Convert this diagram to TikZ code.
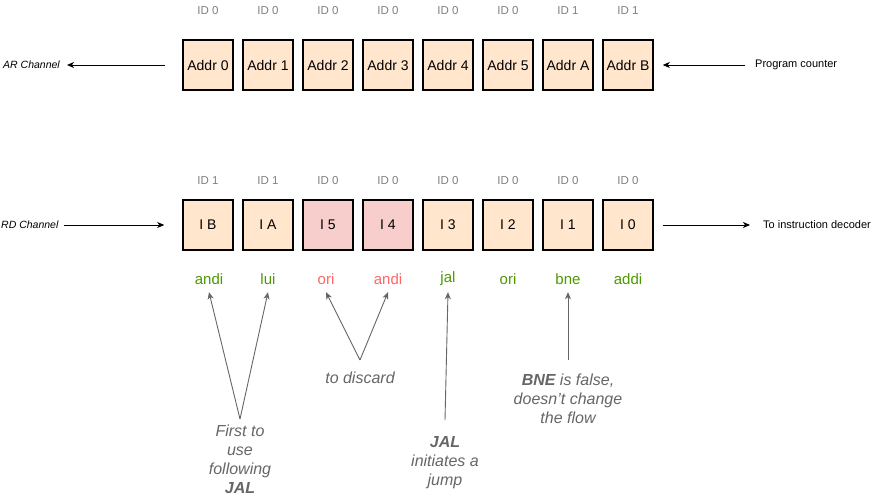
\documentclass[tikz,border=0pt]{standalone}
\usepackage{fontspec}
\setmainfont{Liberation Sans}
\usetikzlibrary{arrows.meta}
\definecolor{boxfill}{HTML}{FFE6CC}
\definecolor{redfill}{HTML}{F8CECC}
\definecolor{grn}{HTML}{4D9900}
\definecolor{rd}{HTML}{FF6666}
\definecolor{idgray}{HTML}{808080}
\definecolor{notegray}{HTML}{666666}
\begin{document}
\begin{tikzpicture}[x=1pt,y=-1pt,
  cell/.style={draw=black,line width=1.5pt,fill=boxfill,minimum size=50pt,inner sep=0pt,font=\fontsize{14}{16}\selectfont},
  discard/.style={cell,fill=redfill},
  idlab/.style={font=\fontsize{11.5}{13}\selectfont,text=idgray,inner sep=0pt},
  side/.style={font=\fontsize{11}{13}\selectfont,inner sep=0pt,anchor=west},
  chan/.style={font=\fontsize{10.5}{12}\selectfont\itshape,inner sep=0pt,anchor=west},
  instr/.style={font=\fontsize{15}{17}\selectfont,inner sep=0pt,minimum height=26pt},
  note/.style={font=\fontsize{16}{19}\selectfont\itshape,text=notegray,align=center,inner sep=0pt,anchor=north},
  flow/.style={-{Stealth[length=7pt,width=6pt,inset=2pt]},line width=0.9pt},
  pointer/.style={-{Stealth[length=7pt,width=6pt,inset=2pt]},line width=0.9pt,draw=notegray},
]
\useasboundingbox[fill=white] (0,0) rectangle (871,501);

% top row
\foreach \t [count=\i from 0] in {0,0,0,0,0,0,1,1}
  \node[idlab] (ida\i) at (208+60*\i,11) {ID \t};
\foreach \t [count=\i from 0] in {Addr 0,Addr 1,Addr 2,Addr 3,Addr 4,Addr 5,Addr A,Addr B}
  \node[cell] (a\i) at (208+60*\i,65) {\t};
\node[chan] (ar) at (3,65) {AR Channel};
\node[side] (pc) at (755,65) {Program counter};
\draw[flow] ([xshift=-17pt]a0.west) -- ([xshift=7pt]ar.east);
\draw[flow] ([xshift=-10pt]pc.west) -- ([xshift=9pt]a7.east);

% bottom row
\foreach \t [count=\i from 0] in {1,1,0,0,0,0,0,0}
  \node[idlab] (idi\i) at (208+60*\i,181) {ID \t};
\node[cell] (i0) at (208,225) {I B};
\node[cell] (i1) at (268,225) {I A};
\node[discard] (i2) at (328,225) {I 5};
\node[discard] (i3) at (388,225) {I 4};
\node[cell] (i4) at (448,225) {I 3};
\node[cell] (i5) at (508,225) {I 2};
\node[cell] (i6) at (568,225) {I 1};
\node[cell] (i7) at (628,225) {I 0};
\node[chan] (rdc) at (1,225) {RD Channel};
\node[side] (dec) at (763,225) {To instruction decoder};
\draw[flow] ([xshift=5pt]rdc.east) -- ([xshift=-18pt]i0.west);
\draw[flow] ([xshift=9pt]i7.east) -- ([xshift=-13pt]dec.west);

% instruction names
\node[instr,text=grn] (l0) at (209,279) {andi};
\node[instr,text=grn] (l1) at (268,279) {lui};
\node[instr,text=rd]  (l2) at (326,279) {ori};
\node[instr,text=rd]  (l3) at (388,279) {andi};
\node[instr,text=grn] (l4) at (448,279) {jal};
\node[instr,text=grn] (l5) at (508,279) {ori};
\node[instr,text=grn] (l6) at (568,279) {bne};
\node[instr,text=grn] (l7) at (628,279) {addi};

% notes
\node[note] (n1) at (240,425) {First to\\use\\following\\\textbf{JAL}};
\node[note] (n2) at (360,372) {to discard};
\node[note] (n3) at (445,436) {\textbf{JAL}\\initiates a\\jump};
\node[note] (n4) at (568,374) {\textbf{BNE} is false,\\doesn{\char"27}t change\\the flow};
\coordinate (s1) at (240,419);
\coordinate (s2) at (360,360);
\coordinate (s3) at (445,420);
\coordinate (s4) at (568,360);
\draw[pointer] (s1) -- (l0.south);
\draw[pointer] (s1) -- (l1.south);
\draw[pointer] (s2) -- (l2.south);
\draw[pointer] (s2) -- (l3.south);
\draw[pointer] (s3) -- (l4.south);
\draw[pointer] (s4) -- (l6.south);
\end{tikzpicture}
\end{document}
